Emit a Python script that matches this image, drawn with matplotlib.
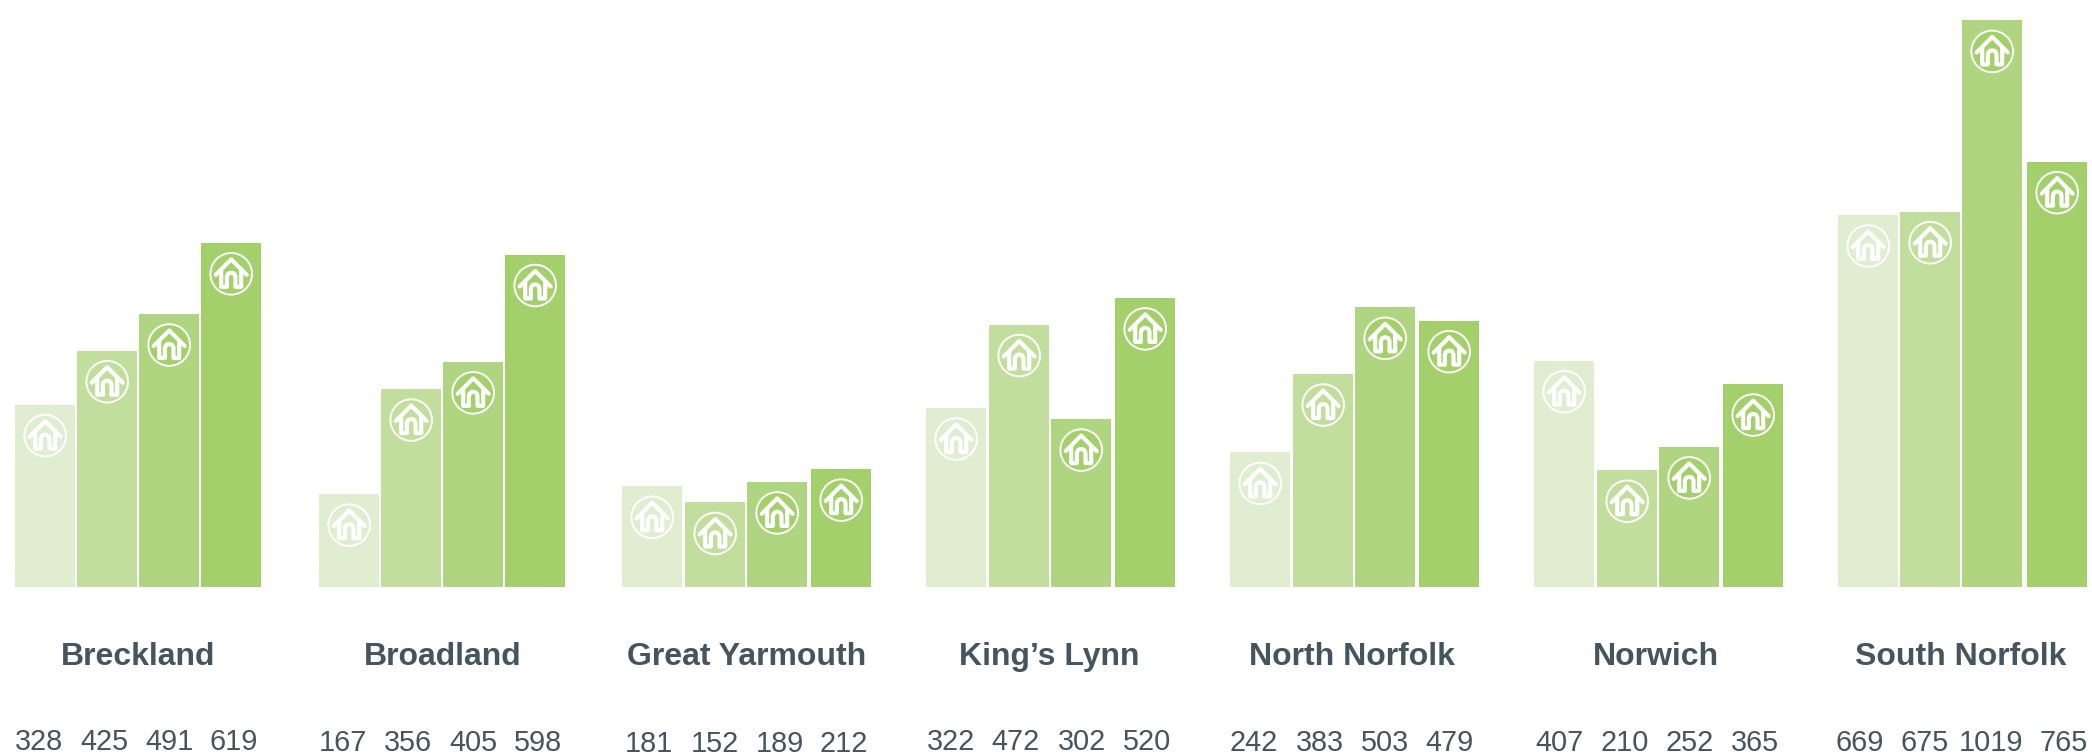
import matplotlib
matplotlib.use("Agg")
import matplotlib.pyplot as plt
from matplotlib.patches import Circle, PathPatch
from matplotlib.path import Path
from matplotlib.transforms import Affine2D

districts = ["Breckland", "Broadland", "Great Yarmouth", "King\u2019s Lynn",
             "North Norfolk", "Norwich", "South Norfolk"]
series_a = [328, 167, 181, 322, 242, 407, 669]
series_b = [425, 356, 152, 472, 383, 210, 675]
series_c = [491, 405, 189, 302, 503, 252, 1019]
series_d = [619, 598, 212, 520, 479, 365, 765]
all_series = [series_a, series_b, series_c, series_d]

colors = ["#E1EDD1", "#C2DE9C", "#B0D580", "#A3D06A"]
text_color = "#44555F"
W, H = 2092, 755
BASE = 587
PX_PER_UNIT = 0.556

fig = plt.figure(figsize=(W / 100, H / 100), dpi=100, facecolor="white")
ax = fig.add_axes([0, 0, 1, 1])
ax.set_xlim(0, W)
ax.set_ylim(-(H - BASE) / PX_PER_UNIT, BASE / PX_PER_UNIT)
ax.axis("off")

top_px = Affine2D().scale(1, -1).translate(0, H)

roof = Path([(-15.5, -1), (0, 14.5), (15.5, -1)], [Path.MOVETO, Path.LINETO, Path.LINETO])
body = Path([(-10, 3), (-10, -13), (-4.3, -13), (-4.3, -4), (-4.3, 1), (0, 1), (4.3, 1),
             (4.3, -4), (4.3, -13), (10, -13), (10, 3)],
            [Path.MOVETO, Path.LINETO, Path.LINETO, Path.LINETO, Path.CURVE3, Path.CURVE3,
             Path.CURVE3, Path.CURVE3, Path.LINETO, Path.LINETO, Path.LINETO])


def draw_icon(x, value, fill):
    _, top = ax.transData.transform((x, value))
    at = Affine2D().translate(x, top - 31)
    ax.add_patch(Circle((0, 0), 20.8, transform=at, facecolor=fill, edgecolor="white",
                        lw=1.4, zorder=3))
    for p in (roof, body):
        ax.add_patch(PathPatch(p, transform=at, fill=False, edgecolor="white", lw=3.0,
                               capstyle="round", joinstyle="round", zorder=4))


group_left = [15, 319, 622, 926, 1230, 1534, 1838]
bar_offsets = [[0, 62, 124, 186], [0, 62, 124, 186], [0, 63, 125, 189], [0, 63, 125, 189],
               [0, 63, 125, 189], [0, 63, 125, 189], [0, 62, 124, 189]]
number_x = [[39, 104, 169, 234], [343, 408, 473, 538], [649, 715, 780, 844],
            [951, 1016, 1082, 1147], [1254, 1320, 1385, 1450], [1559, 1625, 1690, 1755],
            [1860, 1925, 1991, 2064]]
number_baseline = [750, 751, 752.5, 750.5, 751, 751, 751]
name_x = [138, 443, 746.5, 1049, 1351.5, 1655.5, 1961]

for g, name in enumerate(districts):
    for s, vals in enumerate(all_series):
        x = group_left[g] + bar_offsets[g][s] + 30.2
        ax.bar(x, vals[g], width=60.5, color=colors[s], linewidth=0, zorder=2)
        draw_icon(x, vals[g], colors[3] if s == 2 else colors[s])
        ax.text(number_x[g][s], number_baseline[g], str(vals[g]), transform=top_px,
                ha="center", va="baseline", fontsize=20.8, color=text_color,
                family="Liberation Sans")
    ax.text(name_x[g], 665, name, transform=top_px, ha="center", va="baseline",
            fontsize=23, fontweight="bold", color=text_color, family="Liberation Sans")

fig.savefig("out.png", dpi=100, facecolor="white")
